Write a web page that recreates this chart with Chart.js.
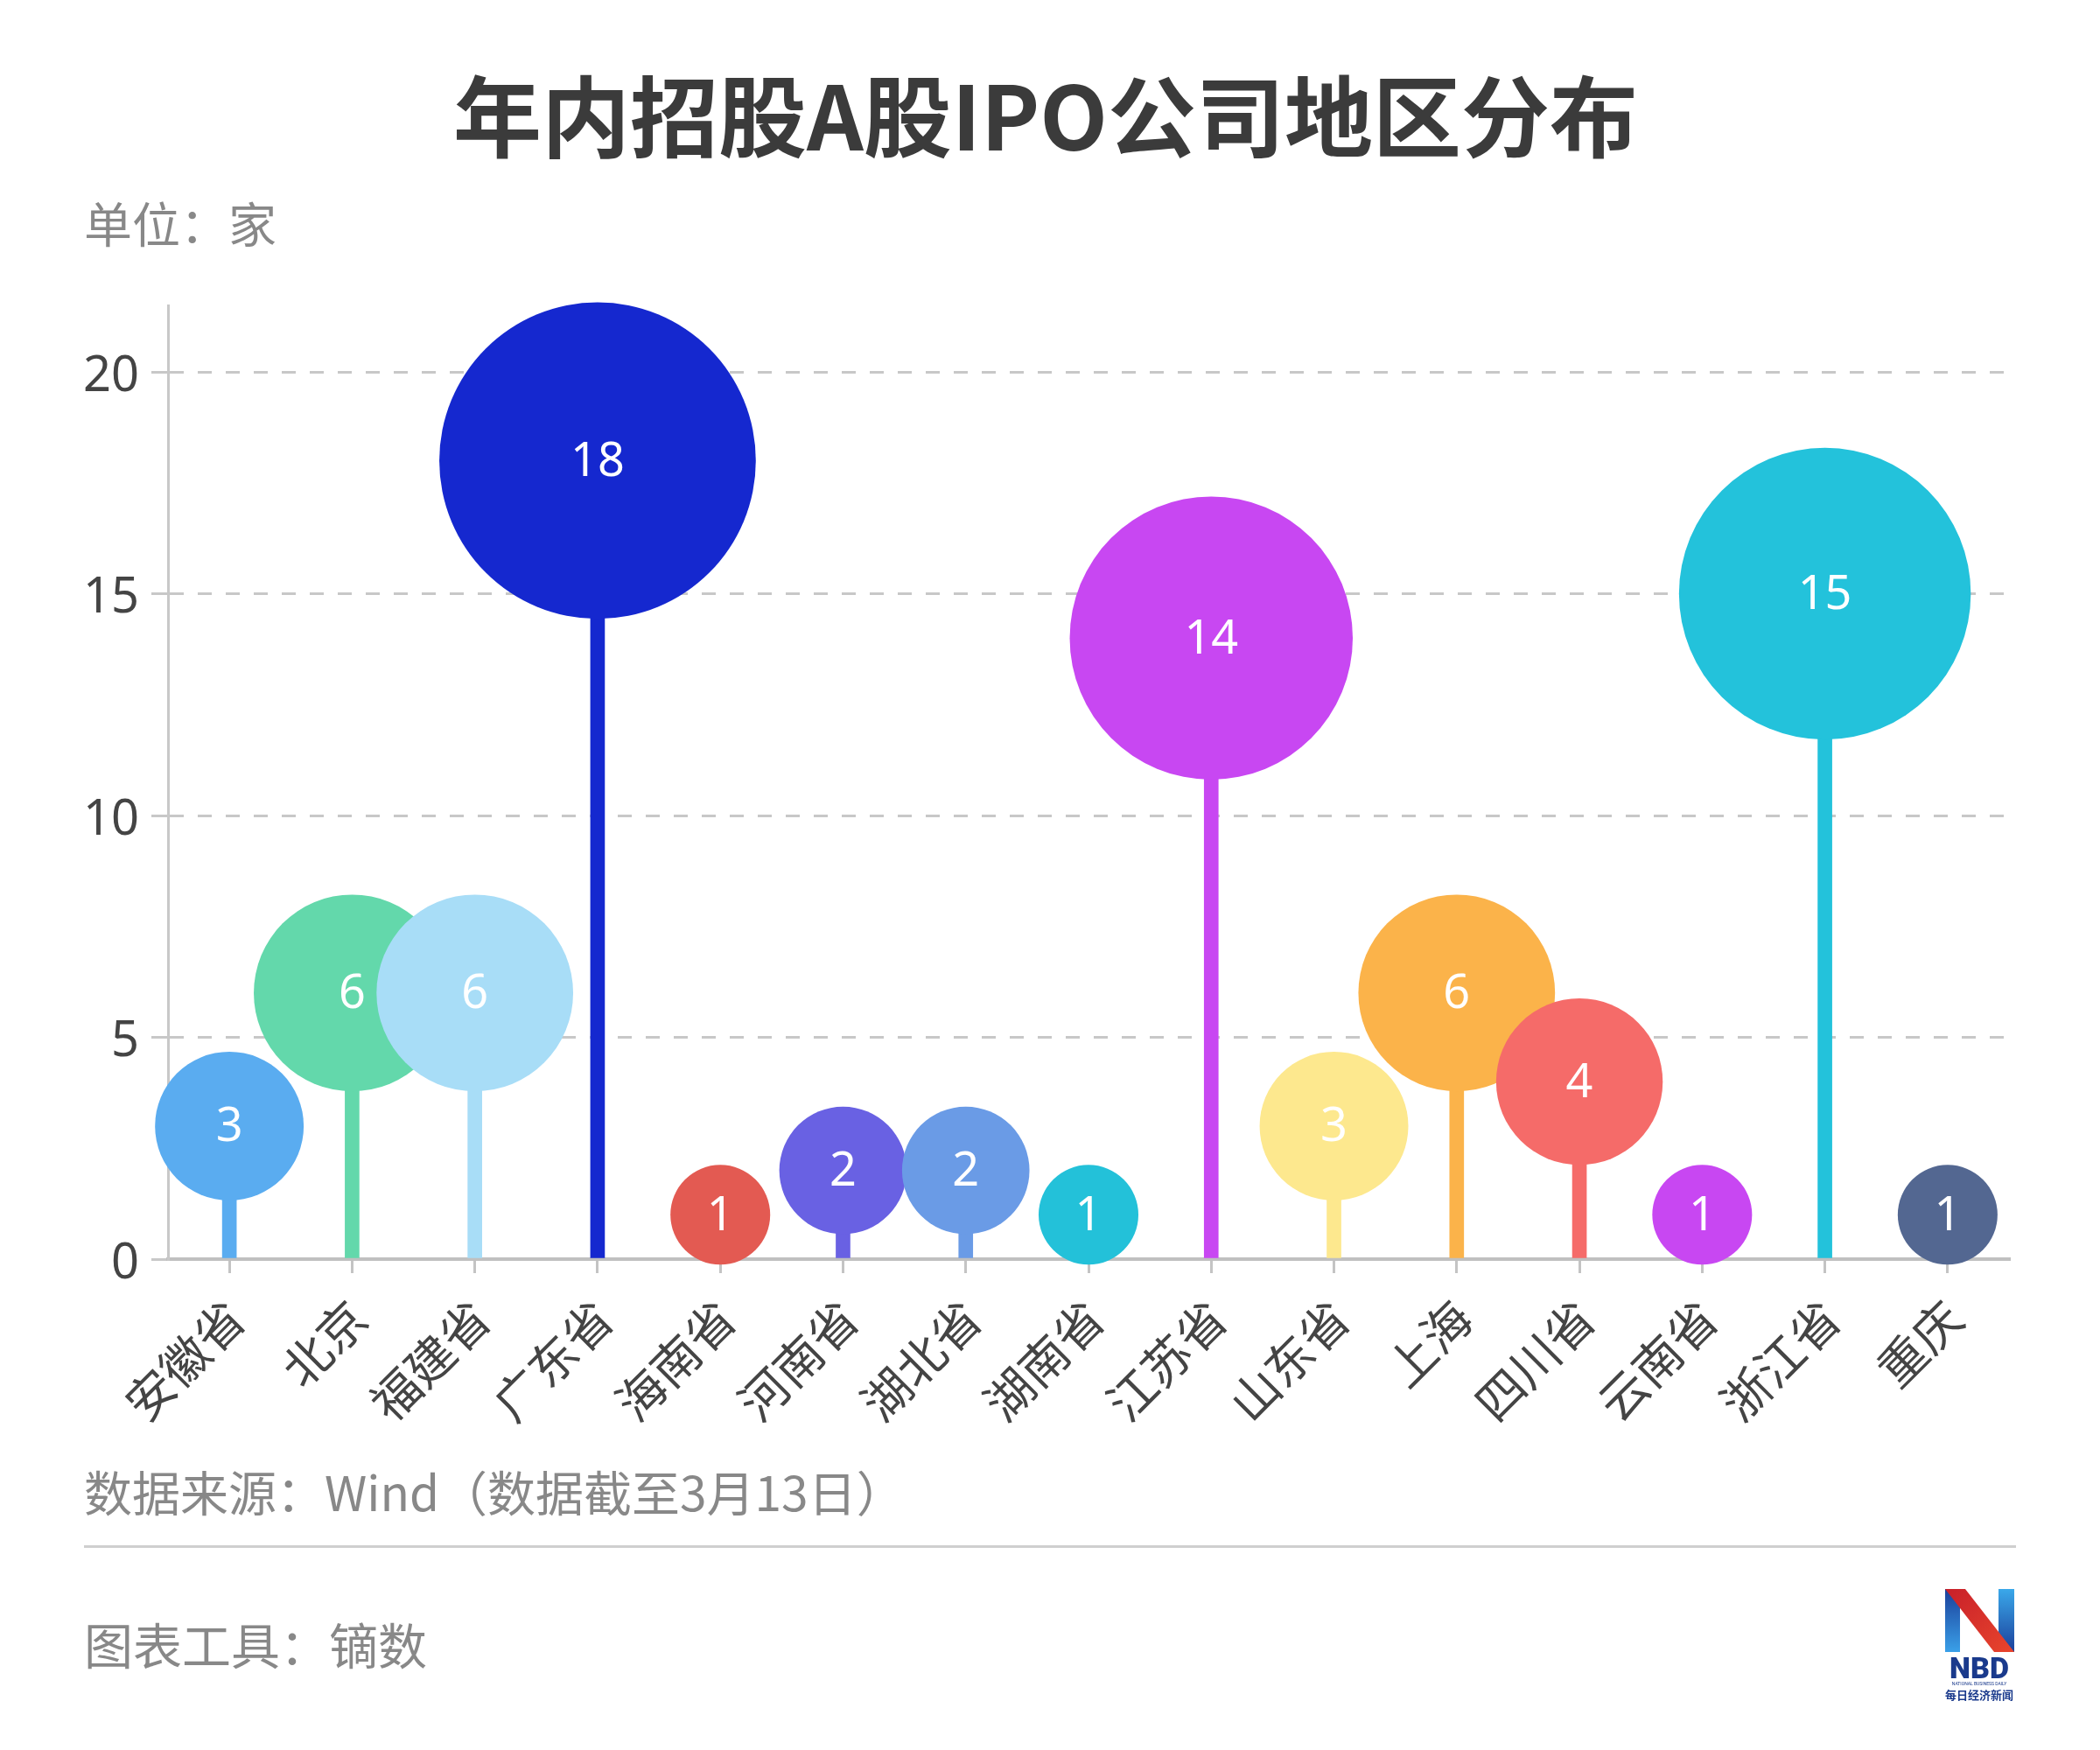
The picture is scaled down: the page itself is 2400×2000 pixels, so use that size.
<!DOCTYPE html>
<html>
<head>
<meta charset="utf-8">
<title>年内招股A股IPO公司地区分布</title>
<script src="https://cdn.jsdelivr.net/npm/chart.js@4.4.1/dist/chart.umd.min.js"></script>
<style>
  body { margin: 0; background: #fff; }
  #wrap { position: relative; width: 2400px; height: 2000px; overflow: hidden; }
  #chart { position: absolute; left: 0; top: 0; }
  .txt { position: absolute; font-family: "Noto Sans CJK SC", sans-serif; white-space: nowrap; line-height: 1; }
  #title { left: 0; width: 2390px; text-align: center; top: 78px; font-size: 101px; font-weight: 700; color: #3b3b3b; }
  #unit { left: 96px; top: 226px; font-size: 55px; color: #888; }
  #source { left: 96px; top: 1676px; font-size: 55px; color: #888; }
  #tool { left: 96px; top: 1850px; font-size: 56px; color: #888; }
  #rule { position: absolute; left: 96px; top: 1766px; width: 2208px; height: 3px; background: #cfcfcf; }
  #logo { position: absolute; left: 2218px; top: 1810px; }
</style>
</head>
<body>
<div id="wrap">
  <canvas id="chart" width="2400" height="2000"></canvas>
  <div class="txt" id="title">年内招股A股IPO公司地区分布</div>
  <div class="txt" id="unit">单位：家</div>
  <div class="txt" id="source">数据来源：Wind（数据截至3月13日）</div>
  <div id="rule"></div>
  <div class="txt" id="tool">图表工具：镝数</div>
  <svg id="logo" width="90" height="140" viewBox="0 0 90 140">
    <defs>
      <linearGradient id="lb" x1="0" y1="0" x2="0" y2="1">
        <stop offset="0" stop-color="#1b3f9a"/>
        <stop offset="1" stop-color="#3aa0e8"/>
      </linearGradient>
      <linearGradient id="rb" x1="0" y1="0" x2="0" y2="1">
        <stop offset="0" stop-color="#3aa8ea"/>
        <stop offset="1" stop-color="#1b3f9a"/>
      </linearGradient>
      <linearGradient id="rd" x1="0" y1="0" x2="1" y2="1">
        <stop offset="0" stop-color="#c8202a"/>
        <stop offset="1" stop-color="#e8452c"/>
      </linearGradient>
    </defs>
    <polygon points="5,6 22,6 22,78 5,78" fill="url(#lb)"/>
    <polygon points="66,6 84,6 84,78 66,78" fill="url(#rb)"/>
    <polygon points="5,6 28,6 84,78 61,78" fill="url(#rd)"/>
    <text x="44" y="108" text-anchor="middle" font-family="Roboto, sans-serif" font-weight="900" font-size="34" fill="#1a3a8c">NBD</text>
    <text x="44" y="116" text-anchor="middle" font-family="Roboto, sans-serif" font-size="5" fill="#1a3a8c">NATIONAL BUSINESS DAILY</text>
    <text x="44" y="132" text-anchor="middle" font-family="Noto Sans CJK SC, sans-serif" font-weight="700" font-size="13" fill="#1a3a8c">每日经济新闻</text>
  </svg>
</div>
<script>
// 各地区年内招股A股IPO公司数量（家）
const regions = ['安徽省', '北京', '福建省', '广东省', '海南省', '河南省', '湖北省', '湖南省',
                 '江苏省', '山东省', '上海', '四川省', '云南省', '浙江省', '重庆'];
const companies = [3, 6, 6, 18, 1, 2, 2, 1, 14, 3, 6, 4, 1, 15, 1];
const yTicks = [0, 5, 10, 15, 20];

const regionColors = ['#5aacf0', '#63d8ab', '#a8ddf7', '#1528cf', '#e35a52', '#6961e3', '#6a9be6', '#23c1d9',
                      '#c847f2', '#fde88e', '#fbb34a', '#f56b69', '#c847f2', '#23c2db', '#536791'];

const numFont = '"Noto Sans", "Open Sans", sans-serif';
const cjkFont = '"Noto Sans CJK SC", sans-serif';

// bubble size grows with the square root of the count
function bubbleRadius(ctx) {
    const v = ctx.raw;
    return 18.8 + 38.2 * Math.sqrt(v);
}

// white number in the middle of each bubble
const bubbleLabels = {
    id: 'bubbleLabels',
    afterDatasetsDraw(chart) {
        const meta = chart.getDatasetMeta(0);
        const c = chart.ctx;
        c.save();
        c.fillStyle = '#ffffff';
        c.font = '400 54px ' + numFont;
        c.textAlign = 'center';
        c.textBaseline = 'middle';
        meta.data.forEach(function (pt, i) {
            c.fillText(String(companies[i]), pt.x, pt.y + 2);
        });
        c.restore();
    }
};

new Chart(document.getElementById('chart'), {
    data: {
        labels: regions,
        datasets: [
            {
                type: 'line',
                data: companies,
                showLine: false,
                pointRadius: bubbleRadius,
                pointHoverRadius: bubbleRadius,
                pointBackgroundColor: regionColors,
                pointBorderWidth: 0,
                pointBorderColor: regionColors,
                clip: false,
                order: 0
            },
            {
                type: 'bar',
                data: companies,
                backgroundColor: regionColors,
                barThickness: 16,
                clip: false,
                order: 1
            }
        ]
    },
    options: {
        responsive: false,
        animation: false,
        devicePixelRatio: 1,
        events: [],
        layout: {
            autoPadding: false,
            padding: { left: 0, top: 349, right: 104, bottom: 361 }
        },
        plugins: {
            legend: { display: false },
            tooltip: { enabled: false }
        },
        scales: {
            x: {
                type: 'category',
                offset: true,
                afterFit: function (scale) { scale.height = 200; },
                grid: {
                    display: true,
                    drawOnChartArea: false,
                    offset: false,
                    tickLength: 16,
                    color: '#c4c4c4',
                    lineWidth: 3
                },
                border: { display: true, color: '#c0c0c0', width: 4 },
                ticks: {
                    minRotation: 45,
                    maxRotation: 45,
                    autoSkip: false,
                    padding: 18,
                    labelOffset: 7,
                    color: '#444444',
                    font: { family: cjkFont, size: 55 }
                }
            },
            y: {
                min: 0,
                max: 21.5,
                afterFit: function (scale) { scale.width = 192; },
                afterBuildTicks: function (scale) {
                    scale.ticks = yTicks.map(function (v) { return { value: v }; });
                },
                grid: {
                    color: '#c8c8c8',
                    lineWidth: 3,
                    tickLength: 19,
                    tickBorderDash: []
                },
                border: { display: true, color: '#c8c8c8', width: 3, dash: [16, 16] },
                ticks: {
                    padding: 14,
                    labelOffset: 6,
                    color: '#444444',
                    font: { family: numFont, size: 56 }
                }
            }
        }
    },
    plugins: [bubbleLabels]
});
</script>
</body>
</html>
